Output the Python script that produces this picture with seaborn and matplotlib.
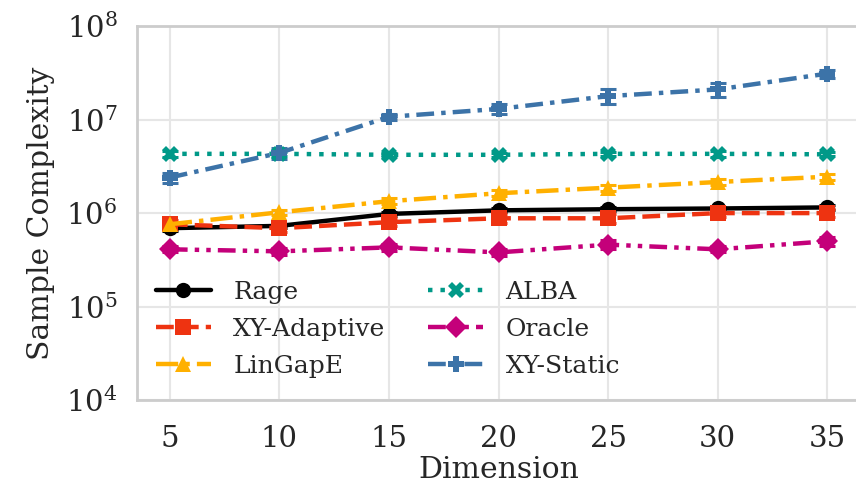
import numpy as np
import pandas as pd
import seaborn as sns
import matplotlib.pyplot as plt
from matplotlib.ticker import LogLocator, NullLocator

dims = [5, 10, 15, 20, 25, 30, 35]
methods = ["Rage", "XY-Adaptive", "LinGapE", "ALBA", "Oracle", "XY-Static"]

rage = [6.9e5, 7.3e5, 9.8e5, 1.07e6, 1.10e6, 1.12e6, 1.15e6]
xy_adaptive = [7.6e5, 6.9e5, 8.0e5, 8.8e5, 8.8e5, 1.0e6, 1.0e6]
lingape = [7.6e5, 1.02e6, 1.34e6, 1.63e6, 1.87e6, 2.15e6, 2.45e6]
alba = [4.3e6, 4.3e6, 4.2e6, 4.2e6, 4.3e6, 4.3e6, 4.25e6]
oracle = [4.1e5, 3.9e5, 4.3e5, 3.8e5, 4.6e5, 4.1e5, 5.0e5]
xy_static = [2.4e6, 4.4e6, 1.07e7, 1.3e7, 1.78e7, 2.1e7, 3.1e7]

# error bar half-widths (small)
rage_err = [4e4, 3e4, 5e4, 5e4, 5e4, 5e4, 6e4]
xy_adaptive_err = [8e4, 6e4, 8e4, 9e4, 9e4, 9e4, 1e5]
lingape_err = [4e4, 6e4, 1e5, 1.2e5, 1.5e5, 1.6e5, 2e5]
alba_err = [3e5, 2e5, 2e5, 2e5, 2e5, 3e5, 2e5]
oracle_err = [3e4, 3e4, 4e4, 3e4, 5e4, 3e4, 5e4]
xy_static_err = [3e5, 6e5, 8e5, 1.5e6, 3.2e6, 3.5e6, 3e6]

values = [rage, xy_adaptive, lingape, alba, oracle, xy_static]
errors = [rage_err, xy_adaptive_err, lingape_err, alba_err, oracle_err, xy_static_err]

colors = {"Rage": "#000000", "XY-Adaptive": "#EE3311", "LinGapE": "#FFB000",
          "ALBA": "#009988", "Oracle": "#C4007A", "XY-Static": "#3C73A8"}
markers = {"Rage": "o", "XY-Adaptive": "s", "LinGapE": "^",
           "ALBA": "X", "Oracle": "D", "XY-Static": "P"}
dashes = {"Rage": "", "XY-Adaptive": (4, 1.6), "LinGapE": (5, 1.6, 1, 1.6),
          "ALBA": (1, 1.8), "Oracle": (4, 1.6, 1, 1.6, 1, 1.6), "XY-Static": (4, 1.6, 1, 1.6)}

rows = []
for m, vals in zip(methods, values):
    for d, v in zip(dims, vals):
        rows.append({"Dimension": d, "Sample Complexity": v, "Method": m})
df = pd.DataFrame(rows)

sns.set_theme(style="whitegrid", rc={
    "axes.edgecolor": "#cccccc", "axes.linewidth": 2.0,
    "grid.color": "#e6e6e6", "grid.linewidth": 1.5,
    "mathtext.fontset": "dejavuserif"})
plt.rcParams["font.family"] = ["DejaVu Serif"]

fig = plt.figure(figsize=(8.56, 4.91), dpi=100)
ax = fig.add_axes([0.160, 0.185, 0.845, 0.762])

for m, vals, err in zip(methods, values, errors):
    ax.errorbar(dims, vals, yerr=err, fmt="none", ecolor=colors[m],
                elinewidth=2.2, capsize=6, capthick=2.2, zorder=2)

sns.lineplot(data=df, x="Dimension", y="Sample Complexity", hue="Method",
             style="Method", hue_order=methods, style_order=methods,
             palette=colors, markers=markers, dashes=dashes,
             linewidth=3.2, markersize=11, markeredgewidth=0, ax=ax, zorder=3)

ax.set_yscale("log")
ax.set_ylim(1e4, 1e8)
ax.yaxis.set_major_locator(LogLocator(base=10, numticks=10))
ax.yaxis.set_minor_locator(NullLocator())
ax.set_xlim(3.5, 36.5)
ax.set_xticks(dims)
ax.tick_params(axis="y", labelsize=21, pad=8)
ax.tick_params(axis="x", labelsize=21, pad=12)
ax.set_xlabel("Dimension", fontsize=21.5, labelpad=2)
ax.set_ylabel("Sample Complexity", fontsize=21.5, labelpad=8)

handles, labels = ax.get_legend_handles_labels()
ax.legend(handles, labels, ncol=2, frameon=False, fontsize=18,
          loc="lower left", bbox_to_anchor=(-0.005, 0.0),
          handlelength=2.2, handletextpad=0.9, columnspacing=1.7,
          labelspacing=0.55)

fig.savefig("out.png", dpi=100)
